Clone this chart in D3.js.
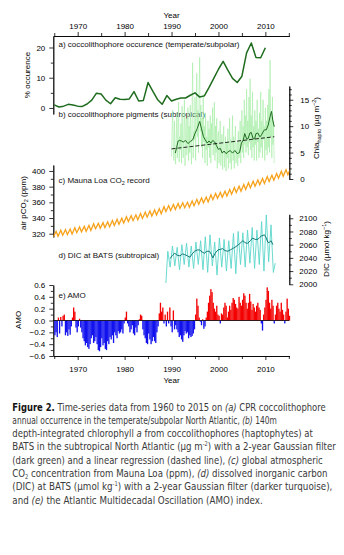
<!DOCTYPE html>
<html lang="en">
<head>
<meta charset="utf-8">
<title>Figure 2: coccolithophores, CO2, DIC and AMO</title>
<script src="https://d3js.org/d3.v7.min.js"></script>
<style>
  body { margin: 0; background: #fff; }
  svg text { font-family: "Liberation Sans", Arial, Helvetica, sans-serif; }
  .cap { font-family: "Liberation Sans Narrow", "DejaVu Sans Condensed", "Roboto Condensed", sans-serif; }
</style>
</head>
<body>
<script>

// ---- data ----

// a) coccolithophore occurrence, % (annual, 1965-2010)
var occYears = d3.range(1965, 2011);
var occValues = [1.0, 0.3, 0.6, 1.2, 1.0, 0.6, 0.5, 1.3, 2.6, 4.9,
                 4.6, 2.6, 1.4, 3.4, 2.9, 2.8, 3.0, 5.4, 2.3, 2.5,
                 8.4, 5.6, 2.8, 1.2, 4.1, 2.3, 2.9, 3.3, 3.3, 4.2,
                 5.0, 3.6, 4.0, 6.8, 9.8, 12.8, 15.4, 12.5, 9.8, 8.4,
                 10.5, 18.2, 21.5, 16.7, 16.6, 19.9];

// b) Chla hapto at BATS, 8 samples a year from 1990.0
var chlaStart = 1990;
var chlaPerYear = 8;
var chlaValues = [
  4.2, 9.5, 13.0, 6.0, 3.5, 11.0, 5.0, 2.8,
  7.5, 12.5, 4.0, 9.0, 14.5, 3.2, 8.0, 5.5,
  10.5, 3.0, 13.8, 6.5, 4.0, 9.8, 15.0, 2.5,
  8.5, 11.5, 4.5, 7.0, 13.5, 3.5, 10.0, 5.0,
  14.0, 6.0, 2.8, 12.0, 22.0, 4.0, 9.0, 7.5,
  15.5, 3.5, 11.0, 20.0, 8.0, 13.0, 5.0, 17.0,
  23.0, 9.0, 14.0, 6.0, 11.5, 4.0, 16.0, 7.0,
  10.0, 3.0, 12.5, 5.5, 8.0, 2.5, 11.0, 6.0,
  9.5, 4.0, 12.0, 3.0, 10.5, 6.5, 13.5, 4.5,
  8.0, 14.5, 3.5, 10.0, 5.0, 11.5, 2.0, 7.5,
  9.0, 3.0, 7.0, 11.0, 2.5, 6.0, 8.5, 1.8,
  6.5, 10.0, 2.2, 5.5, 8.0, 1.5, 7.0, 4.0,
  9.5, 2.0, 6.0, 11.5, 3.0, 7.5, 1.8, 6.0,
  12.0, 3.5, 8.0, 2.0, 6.5, 10.0, 3.0, 5.5,
  7.0, 2.5, 9.0, 4.0, 6.0, 11.0, 3.0, 8.5,
  13.0, 5.0, 10.0, 4.0, 15.0, 6.5, 12.0, 5.0,
  17.0, 6.0, 11.0, 4.5, 15.5, 7.0, 19.0, 5.5,
  12.0, 4.0, 16.5, 6.0, 10.0, 3.5, 13.0, 6.5,
  11.0, 3.5, 15.0, 7.0, 9.5, 4.0, 12.5, 5.0,
  16.5, 6.0, 11.0, 4.0, 15.0, 7.5, 10.0, 3.5,
  13.5, 5.5, 11.0, 4.5, 14.0, 6.0, 17.0, 5.0,
  22.5, 8.0, 12.0, 4.0, 15.5, 6.5, 11.0, 3.0];

// b) 2-year Gaussian filter
var chlaSmoothYears = [1990.8, 1991.1, 1991.4, 1991.7, 1992.1, 1992.5, 1993.0, 1993.5, 1994.0, 1994.5,
                       1995.0, 1995.5, 1996.0, 1996.4, 1996.8, 1997.2, 1997.6, 1998.0, 1998.4, 1998.8,
                       1999.2, 1999.6, 2000.0, 2000.4, 2000.8, 2001.2, 2001.6, 2002.0, 2002.5, 2003.0,
                       2003.5, 2004.0, 2004.5, 2004.9, 2005.3, 2005.6, 2006.0, 2006.3, 2006.7, 2007.0,
                       2007.4, 2007.7, 2008.0, 2008.4, 2008.8, 2009.1, 2009.5, 2009.8, 2010.2, 2010.6,
                       2011.0, 2011.3, 2011.6, 2011.9];
var chlaSmoothValues = [4.9, 6.0, 7.2, 7.3, 7.2, 7.0, 7.3, 6.7, 7.1, 7.4,
                        8.6, 9.6, 10.9, 9.5, 8.0, 7.4, 6.8, 7.2, 6.8, 7.3,
                        7.0, 6.3, 5.6, 5.8, 4.9, 5.3, 4.8, 5.1, 5.4, 4.9,
                        5.4, 4.8, 5.0, 6.8, 7.4, 8.6, 7.6, 7.6, 8.7, 8.8,
                        7.6, 7.6, 8.6, 8.7, 8.0, 8.2, 8.9, 9.3, 9.3, 10.2,
                        11.8, 12.8, 11.0, 9.9];

// b) linear regression end points
var regYears = [1990.0, 2011.9];
var regValues = [5.7, 8.0];

// c) Mauna Loa CO2: seasonal peaks (1965-2015) and troughs (1964-2014)
var co2PeakYears = d3.range(1965, 2016);
var co2Peaks = [323.0, 324.4, 325.2, 326.0, 327.6, 328.7, 329.3, 330.5, 332.7, 333.2,
                334.1, 335.0, 336.8, 338.4, 339.8, 341.7, 342.9, 344.1, 345.8, 347.4,
                348.9, 350.2, 351.9, 354.5, 355.9, 357.2, 358.6, 359.4, 360.1, 361.8,
                363.8, 365.6, 366.7, 369.7, 371.4, 372.7, 374.3, 376.5, 378.8, 380.5,
                382.8, 384.9, 386.8, 388.6, 390.4, 392.9, 394.6, 396.9, 399.5, 401.6, 403.8];
var co2TroughYears = d3.range(1964, 2015);
var co2Troughs = [316.0, 316.7, 318.1, 318.9, 319.7, 321.3, 322.4, 323.0, 324.2, 326.4,
                  326.9, 327.8, 328.7, 330.5, 332.1, 333.5, 335.4, 336.6, 337.8, 339.5,
                  341.1, 342.6, 343.9, 345.6, 348.2, 349.6, 350.9, 352.3, 353.1, 353.8,
                  355.5, 357.5, 359.3, 360.4, 363.4, 365.1, 366.4, 368.0, 370.2, 372.5,
                  374.2, 376.5, 378.6, 380.5, 382.3, 384.1, 386.6, 388.3, 390.6, 393.2, 395.3];

// d) DIC at BATS: winter highs and summer lows, 1989-2011
var dicYears = d3.range(1989, 2012);
var dicHighs = [2050, 2058, 2056, 2060, 2062, 2058, 2064, 2066, 2072, 2075, 2064, 2070,
                2068, 2066, 2077, 2080, 2078, 2082, 2086, 2082, 2095, 2105, 2090];
var dicLows = [2026, 2028, 2022, 2030, 2026, 2024, 2030, 2022, 2018, 2028, 2014, 2026,
               2020, 2024, 2016, 2030, 2026, 2032, 2024, 2030, 2020, 2034, 2018];
var dicFirst = [1988.8, 2002];
var dicLast = [2012.1, 2032];

// d) 2-year Gaussian filter
var dicSmoothYears = [1989.7, 1990.2, 1990.7, 1991.2, 1991.8, 1992.3, 1992.8, 1993.4, 1993.9, 1994.4,
                      1994.9, 1995.5, 1996.0, 1996.5, 1997.0, 1997.5, 1998.1, 1998.5, 1998.8, 1999.3,
                      1999.9, 2000.4, 2000.9, 2001.4, 2002.0, 2002.5, 2003.0, 2003.5, 2004.1, 2004.6,
                      2005.2, 2005.7, 2006.2, 2006.8, 2007.3, 2007.8, 2008.4, 2008.8, 2009.1, 2009.5,
                      2009.8, 2010.2, 2010.5, 2010.8, 2011.2, 2011.6];
var dicSmoothValues = [2039, 2044, 2047, 2044, 2043, 2046, 2045, 2043, 2041, 2046,
                       2050, 2052, 2052, 2049, 2047, 2050, 2050, 2045, 2040, 2047,
                       2052, 2053, 2054, 2051, 2050, 2052, 2054, 2056, 2059, 2062,
                       2066, 2063, 2062, 2066, 2070, 2068, 2068, 2071, 2073, 2074,
                       2075, 2070, 2064, 2063, 2066, 2060];

// e) AMO index, quarterly from 1965.0
var amoStart = 1965;
var amoValues = [
  -0.25, -0.2, -0.28, 0.05,   -0.22, 0.06, -0.1, 0.08,    0.1, -0.25, -0.2, -0.26,
  -0.15, -0.24, -0.1, 0.05,   0.22, 0.15, -0.12, -0.2,
  -0.1, 0.03, -0.12, -0.2,    -0.3, -0.35, -0.42, -0.38,  -0.45, -0.48, -0.4, -0.3,
  -0.25, -0.38, -0.35, -0.28, -0.4, -0.5, -0.52, -0.45,
  -0.3, -0.42, -0.38, -0.48,  -0.5, -0.35, -0.4, -0.28,   -0.32, -0.25, -0.38, -0.2,
  -0.25, -0.3, -0.18, -0.22,  -0.2, -0.15, -0.22, -0.05,
  0.05, 0.15, -0.05, -0.1,    -0.2, -0.15, -0.08, -0.22,  -0.25, -0.12, -0.2, -0.08,
  0.02, 0.1, 0.08, -0.15,     -0.25, -0.3, -0.38, -0.4,
  -0.22, -0.32, -0.4, -0.35,  -0.28, -0.35, -0.38, -0.2,  -0.1, 0.12, 0.3, 0.15,
  0.22, -0.05, 0.1, -0.1,     0.15, -0.05, 0.22, -0.1,
  -0.2, 0.17, -0.15, -0.08,   -0.15, -0.2, -0.28, -0.25,  -0.32, -0.36, -0.25, -0.18,
  -0.22, -0.2, -0.3, -0.25,   -0.28, -0.26, -0.22, -0.15,
  0.1, 0.37, 0.25, 0.05,      -0.02, -0.08, 0.02, -0.14,  -0.1, 0.05, 0.15, 0.3,
  0.42, 0.53, 0.48, 0.3,      0.2, 0.15, 0.25, 0.1,
  0.08, -0.05, 0.12, 0.1,     0.22, 0.3, 0.25, 0.05,      0.15, 0.25, 0.18, 0.3,
  0.38, 0.35, 0.28, 0.22,     0.2, 0.4, 0.3, 0.25,
  0.35, 0.46, 0.42, 0.3,      0.2, 0.3, 0.45, 0.32,       0.18, 0.28, 0.22, 0.15,
  0.25, 0.3, 0.22, 0.18,      -0.05, -0.17, 0.1, 0.22,
  0.35, 0.56, 0.5, 0.3,       0.2, 0.35, 0.25, -0.05,     0.1, 0.25, 0.3, 0.2,
  0.15, 0.3, 0.18, 0.1,       -0.05, 0.15, 0.37, 0.2,
  0.08];

// ticks
var yearMajor = [1970, 1980, 1990, 2000, 2010];
var yearMinor = [1965, 1975, 1985, 1995, 2005, 2015];

// ---- chart ----

var W = 344, H = 555;
var svg = d3.select("body").append("svg").attr("width", W).attr("height", H);

var green = "#1f6c1f";

var x = d3.scaleLinear().domain([1964.8, 2015.1]).range([53.3, 289.3]);
var yA = d3.scaleLinear().domain([-2, 23.8]).range([114, 36]);
var yB = d3.scaleLinear().domain([0, 17.6]).range([179, 86]);
var yC = d3.scaleLinear().domain([315.8, 407.6]).range([237, 165]);
var yD = d3.scaleLinear().domain([2000, 2106]).range([284.3, 214.3]);
var yE = d3.scaleLinear().domain([-0.6, 0.6]).range([356, 285]);

function drawAxis(axis, tx, ty) {
  var g = svg.append("g")
    .attr("transform", "translate(" + tx + "," + ty + ")")
    .call(axis)
    .attr("font-size", 8)
    .attr("font-family", null);
  g.selectAll("path, line").attr("stroke", "#000").attr("stroke-width", 0.8);
  g.selectAll("text").attr("fill", "#000");
  return g;
}

// top and bottom year axes
drawAxis(d3.axisTop(x).tickValues(yearMinor).tickSize(3).tickSizeOuter(0).tickFormat(""), 0, 36);
drawAxis(d3.axisTop(x).tickValues(yearMajor).tickSize(4).tickSizeOuter(0).tickPadding(3).tickFormat(d3.format("d")), 0, 36);
drawAxis(d3.axisBottom(x).tickValues(yearMinor).tickSize(3).tickSizeOuter(0).tickFormat(""), 0, 356);
drawAxis(d3.axisBottom(x).tickValues(yearMajor).tickSize(4).tickSizeOuter(0).tickPadding(6).tickFormat(d3.format("d")), 0, 356);

// left axes (a, c, e)
drawAxis(d3.axisLeft(yA).tickValues([5, 15]).tickSize(2.5).tickSizeOuter(0).tickFormat(""), 53.3, 0);
drawAxis(d3.axisLeft(yA).tickValues([0, 10, 20]).tickSize(4).tickSizeOuter(0).tickPadding(4).tickFormat(d3.format("d")), 53.3, 0);
drawAxis(d3.axisLeft(yC).tickValues([330, 350, 370, 390]).tickSize(2.5).tickSizeOuter(0).tickFormat(""), 53.3, 0);
drawAxis(d3.axisLeft(yC).tickValues([320, 340, 360, 380, 400]).tickSize(4).tickSizeOuter(0).tickPadding(4).tickFormat(d3.format("d")), 53.3, 0);
drawAxis(d3.axisLeft(yE).tickValues([-0.5, -0.3, -0.1, 0.1, 0.3, 0.5]).tickSize(2.5).tickSizeOuter(0).tickFormat(""), 53.3, 0);
drawAxis(d3.axisLeft(yE).tickValues([-0.6, -0.4, -0.2, 0, 0.2, 0.4, 0.6]).tickSize(4).tickSizeOuter(0).tickPadding(4).tickFormat(d3.format(".1f")), 53.3, 0);

// right axes (b, d)
drawAxis(d3.axisRight(yB).tickValues([1, 2, 3, 4, 6, 7, 8, 9, 11, 12, 13, 14, 16, 17]).tickSize(2.5).tickSizeOuter(0).tickFormat(""), 289.3, 0);
drawAxis(d3.axisRight(yB).tickValues([0, 5, 10, 15]).tickSize(4).tickSizeOuter(0).tickPadding(7).tickFormat(d3.format("d")), 289.3, 0);
drawAxis(d3.axisRight(yD).tickValues([2010, 2030, 2050, 2070, 2090]).tickSize(2.5).tickSizeOuter(0).tickFormat(""), 289.3, 0);
drawAxis(d3.axisRight(yD).tickValues([2000, 2020, 2040, 2060, 2080, 2100]).tickSize(4).tickSizeOuter(0).tickPadding(6).tickFormat(d3.format("d")), 289.3, 0);

// axis titles
svg.append("text").attr("x", x(1990)).attr("y", 18).attr("text-anchor", "middle").attr("font-size", 8).text("Year");
svg.append("text").attr("x", x(1990)).attr("y", 383).attr("text-anchor", "middle").attr("font-size", 8).text("Year");

function vLabel(cx, cy, rot) {
  return svg.append("text")
    .attr("transform", "translate(" + cx + "," + cy + ") rotate(" + rot + ")")
    .attr("text-anchor", "middle").attr("dy", "0.35em").attr("font-size", 8);
}
vLabel(27, 75, -90).text("% occurence");
var lc = vLabel(23, 203, -90);
lc.append("tspan").text("air pCO");
lc.append("tspan").attr("font-size", 5.5).attr("dy", 2).text("2");
lc.append("tspan").attr("dy", -2).text(" (ppm)");
vLabel(18, 320, -90).text("AMO");
var lb = vLabel(316, 128, -90);
lb.append("tspan").text("Chla");
lb.append("tspan").attr("font-size", 5.5).attr("dy", 2).text("hapto");
lb.append("tspan").attr("dy", -2).text(" (\u00b5g m");
lb.append("tspan").attr("font-size", 5.5).attr("dy", -3).text("\u22122");
lb.append("tspan").attr("dy", 3).text(")");
var ld = vLabel(326, 249, -90);
ld.append("tspan").text("DIC (\u00b5mol kg");
ld.append("tspan").attr("font-size", 5.5).attr("dy", -3).text("\u22121");
ld.append("tspan").attr("dy", 3).text(")");

// panel titles
function pLabel(y) {
  return svg.append("text").attr("x", 58.5).attr("y", y).attr("font-size", 8).attr("fill", "#111");
}
pLabel(47).text("a) coccolithophore occurence (temperate/subpolar)");
pLabel(117).text("b) coccolithophore pigments (subtropical)");
var pc = pLabel(183);
pc.append("tspan").text("c) Mauna Loa CO");
pc.append("tspan").attr("font-size", 5.5).attr("dy", 2).text("2");
pc.append("tspan").attr("dy", -2).text(" record");
pLabel(258).text("d) DIC at BATS (subtropical)");
pLabel(298).text("e) AMO");

// e) AMO bars
var qW = x(amoStart + 0.25) - x(amoStart);
svg.append("g").selectAll("rect")
  .data(amoValues)
  .enter().append("rect")
  .attr("x", function(d, i) { return x(amoStart + i / 4); })
  .attr("width", qW + 0.15)
  .attr("y", function(d) { return d > 0 ? yE(d) : yE(0); })
  .attr("height", function(d) { return Math.abs(yE(d) - yE(0)); })
  .attr("fill", function(d) { return d > 0 ? "#f40000" : "#1212ee"; });
svg.append("line").attr("x1", x(1964.8)).attr("x2", x(2015.1))
  .attr("y1", yE(0)).attr("y2", yE(0)).attr("stroke", "#000").attr("stroke-width", 0.8);

// c) CO2 zigzag
svg.append("clipPath").attr("id", "plotclip").append("rect")
  .attr("x", 53.3).attr("y", 0).attr("width", 236).attr("height", H);
var co2 = [];
co2TroughYears.forEach(function(yr, i) {
  co2.push([yr + 0.8, co2Troughs[i]]);
  co2.push([co2PeakYears[i] + 0.4, co2Peaks[i]]);
});
svg.append("path")
  .datum(co2)
  .attr("clip-path", "url(#plotclip)")
  .attr("fill", "none").attr("stroke", "#f7a21b").attr("stroke-width", 1.3)
  .attr("d", d3.line().x(function(d) { return x(d[0]); }).y(function(d) { return yC(d[1]); }));

// d) DIC raw + smoothed
var dic = [dicFirst];
dicYears.forEach(function(yr, i) {
  dic.push([yr + 0.2, dicHighs[i]]);
  dic.push([yr + 0.7, dicLows[i]]);
});
dic.push(dicLast);
var lineD = d3.line().x(function(d) { return x(d[0]); }).y(function(d) { return yD(d[1]); });
svg.append("path").datum(dic)
  .attr("fill", "none").attr("stroke", "#5ad6cb").attr("stroke-width", 0.9)
  .attr("d", lineD);
svg.append("path").datum(d3.zip(dicSmoothYears, dicSmoothValues))
  .attr("fill", "none").attr("stroke", "#127a77").attr("stroke-width", 1)
  .attr("d", lineD);

// b) Chla raw, smoothed, regression
var lineB = d3.line().x(function(d) { return x(d[0]); }).y(function(d) { return yB(d[1]); });
svg.append("path")
  .datum(chlaValues.map(function(v, i) { return [chlaStart + i / chlaPerYear, v]; }))
  .attr("fill", "none").attr("stroke", "#a3eca3").attr("stroke-width", 0.6)
  .attr("d", lineB);
svg.append("path").datum(d3.zip(chlaSmoothYears, chlaSmoothValues))
  .attr("fill", "none").attr("stroke", green).attr("stroke-width", 1)
  .attr("d", lineB);
svg.append("path").datum(d3.zip(regYears, regValues))
  .attr("fill", "none").attr("stroke", "#111").attr("stroke-width", 0.9)
  .attr("stroke-dasharray", "4,2")
  .attr("d", lineB);

// a) occurrence
svg.append("path").datum(d3.zip(occYears, occValues))
  .attr("fill", "none").attr("stroke", green).attr("stroke-width", 1.5)
  .attr("stroke-linejoin", "round")
  .attr("d", d3.line().x(function(d) { return x(d[0]); }).y(function(d) { return yA(d[1]); }));

// ---- caption ----
var caption = [
  [["Figure 2.", "b"], [" Time-series data from 1960 to 2015 on ", ""], ["(a)", "i"], [" CPR coccolithophore", ""]],
  [["annual occurrence in the temperate/subpolar North Atlantic, ", ""], ["(b)", "i"], [" 140m", ""]],
  [["depth-integrated chlorophyll ", ""], ["a", "i"], [" from coccolithophores (haptophytes) at", ""]],
  [["BATS in the subtropical North Atlantic (\u00b5g m", ""], ["-2", "sup"], [") with a 2-year Gaussian filter", ""]],
  [["(dark green) and a linear regression (dashed line), ", ""], ["(c)", "i"], [" global atmospheric", ""]],
  [["CO", ""], ["2", "sub"], [" concentration from Mauna Loa (ppm), ", ""], ["(d)", "i"], [" dissolved inorganic carbon", ""]],
  [["(DIC) at BATS (\u00b5mol kg", ""], ["-1", "sup"], [") with a 2-year Gaussian filter (darker turquoise),", ""]],
  [["and ", ""], ["(e)", "i"], [" the Atlantic Multidecadal Oscillation (AMO) index.", ""]]
];
var capWidths = [313.7, 264.7, 300.7, 324.7, 310.7, 315.7, 320.7, 250.7];

caption.forEach(function(parts, li) {
  var y0 = 410.5 + li * 13.33;
  var t = svg.append("text").attr("class", "cap")
    .attr("x", 0).attr("y", 0)
    .attr("font-size", 11).attr("fill", "#3a3a3a");
  parts.forEach(function(p, i) {
    var s = t.append("tspan").text(p[0]);
    if (p[1] === "b") s.attr("font-weight", "bold").attr("fill", "#111");
    if (p[1] === "i") s.attr("font-style", "italic");
    if (p[1] === "sup") s.attr("font-size", 6.5).attr("dy", -4);
    if (p[1] === "sub") s.attr("font-size", 6.5).attr("dy", 2);
    var prev = i > 0 ? parts[i - 1][1] : "";
    if (prev === "sup") s.attr("dy", 4);
    if (prev === "sub") s.attr("dy", -2);
  });
  // squeeze each line to the condensed width of the printed caption
  var w = t.node().getBBox().width;
  t.attr("transform", "translate(12.3," + y0 + ") scale(" + (capWidths[li] / w) + ",1)");
});

</script>
</body>
</html>
